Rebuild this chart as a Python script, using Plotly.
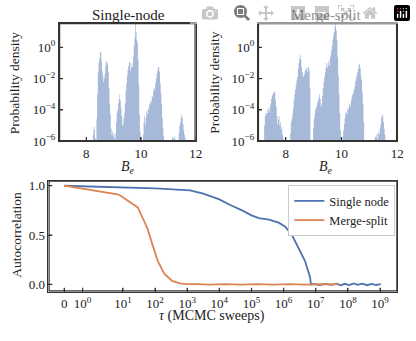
import numpy as np
import plotly.graph_objects as go

# histogram data: log10 probability density per bin, bins of width 0.025 in B_e
bin_width = 0.025

sn_starts = [8.24, 8.37, 9.06, 10.07, 11.13, 11.38]
sn_logd = [
    [-5.6, -5.1, -5.3, -5.8],
    [-4.6, -3.0, -1.6, -1.0, -0.7, -0.35, -0.3, -0.9, -1.5, -1.8, -2.2, -2.0, -1.7, -1.2,
     -0.9, -0.95, -1.1, -1.6, -2.6, -3.6, -4.3, -5.2, -5.6, -5.4, -5.7, -5.5, -5.8],
    [-5.5, -4.8, -4.2, -4.0, -3.6, -3.3, -3.0, -3.4, -3.9, -4.4, -5.0, -4.9, -4.5, -4.2,
     -3.6, -2.8, -2.3, -1.8, -1.45, -1.2, -0.93, -1.0, -1.5, -1.3, -1.0, -1.25, -0.6, 0.1,
     0.6, 1.5, 1.0, 0.5, 0.3, -0.8, -2.4, -4.3, -5.4, -5.7],
    [-5.6, -4.8, -4.4, -5.0, -4.5, -4.1, -4.3, -3.9, -4.0, -3.6, -3.7, -3.4, -3.5, -3.1,
     -3.2, -2.8, -2.6, -2.7, -2.3, -2.0, -1.7, -1.5, -1.25, -1.3, -1.6, -2.3, -2.9, -3.6,
     -4.5, -5.2, -5.7],
    [-5.8, -5.7, -5.9, -5.8, -5.7],
    [-5.5, -5.0, -4.8, -4.5, -4.3, -4.5, -4.9, -5.3, -5.6, -5.8],
]

ms_starts = [7.225, 8.16, 8.98, 10.04, 11.2]
ms_logd = [
    [-5.0, -4.4, -4.2, -4.3, -4.0, -4.2, -3.9, -4.1, -3.8, -3.6, -3.3, -3.1, -3.0, -2.9,
     -2.8, -2.9, -3.4, -3.8, -4.4, -4.9, -4.6, -4.4, -5.0, -4.8, -5.3, -5.1, -5.6, -5.8],
    [-5.5, -4.8, -4.6, -4.3, -3.9, -3.4, -3.0, -2.7, -2.4, -2.1, -1.9, -1.4, -1.0, -0.7,
     -0.45, -0.8, -1.3, -1.6, -1.8, -1.9, -1.7, -1.5, -1.3, -1.4, -1.6, -1.3, -1.25, -1.5, -2.6],
    [-5.2, -4.6, -4.3, -4.0, -3.9, -3.7, -3.5, -3.4, -3.2, -3.0, -3.3, -3.8, -3.6, -3.1,
     -2.6, -2.2, -1.9, -1.6, -1.3, -1.0, -1.3, -1.1, -0.9, -1.2, -0.7, -0.5, -0.2, 0.1,
     0.5, 0.8, 1.0, 1.3, 1.55, 1.1, 0.5, -0.6, -1.8, -3.0, -4.2, -5.3],
    [-5.7, -5.3, -4.9, -4.5, -4.2, -4.1, -4.3, -3.9, -4.0, -3.7, -3.6, -3.8, -3.4, -3.2,
     -3.0, -2.9, -2.7, -2.5, -2.2, -2.0, -1.8, -1.6, -1.4, -1.15, -1.05, -1.3, -1.8, -2.1,
     -2.9, -3.6, -4.8],
    [-5.7, -5.8, -5.6, -5.9, -5.5, -5.4, -5.6, -5.2, -4.9, -4.5, -4.3, -4.4, -4.8, -5.2, -5.6],
]

# autocorrelation curves
sn_tau = [0, 1, 10, 100, 1230, 3160, 1e4, 2.1e4, 5.3e4, 1e5, 1.7e5, 3.5e5, 7e5, 1.12e6,
          1.8e6, 2.6e6, 3.2e6, 4.6e6, 6.6e6, 7.1e6, 9e6, 1.3e7, 2e7, 3e7, 4.5e7, 6e7, 8e7,
          1.1e8, 1.5e8, 2e8, 2.8e8, 4e8, 5.5e8, 7.5e8, 1.05e9]
sn_acf = [1.0, 0.995, 0.984, 0.974, 0.953, 0.92, 0.862, 0.807, 0.748, 0.70, 0.672, 0.656,
          0.626, 0.584, 0.502, 0.403, 0.338, 0.24, 0.075, 0.0, 0.004, -0.006, 0.005, -0.004,
          0.008, -0.009, 0.006, -0.007, 0.009, -0.005, 0.007, -0.008, 0.005, -0.006, 0.003]

ms_tau = [0, 7.9, 29, 41, 58, 83, 121, 193, 340, 600, 960, 2e3, 5e3, 1.5e4, 5e4, 1.5e5,
          5e5, 1.5e6, 5e6, 1.5e7, 3e7, 5e7]
ms_acf = [1.0, 0.911, 0.78, 0.666, 0.567, 0.403, 0.239, 0.108, 0.036, 0.01, 0.003, 0.002,
          -0.002, 0.003, -0.002, 0.002, -0.003, 0.002, -0.002, 0.003, -0.002, 0.001]

tau_ticks = [0, 1, 10, 100, 1e3, 1e4, 1e5, 1e6, 1e7, 1e8, 1e9]
tau_ticktext = ["0"] + ["10<sup>%d</sup>" % k for k in range(0, 10)]
be_ticks = [8, 10, 12]
dens_ticks = [1e-6, 1e-4, 1e-2, 1]
acf_ticks = [0, 0.5, 1.0]


def tau_pos(t):
    # axis position of a sweep count, in decades
    out = []
    for v in t:
        if v <= 1:
            out.append(-0.826 + 0.572 * v)
        elif v < 10:
            out.append(-0.254 + 1.254 * float(np.log10(v)))
        else:
            out.append(float(np.log10(v)))
    return out


FILL = "#a6b9d8"
BLUE = "#4c72b0"
ORANGE = "#dd8452"
FONT = "Liberation Serif"
AXC = "#333333"
TXT = "#222222"

W, H, M = 416, 341, 2

be_range = [7.0, 12.0]
log_range = [-6, 1.55]
tau_range = [-1.315, 9.541]
acf_range = [-0.072, 1.052]

fig = go.Figure()


def add_hist(starts, logds, xa, ya):
    for s, vals in zip(starts, logds):
        edges = [s + bin_width * i for i in range(len(vals) + 1)]
        dens = [10.0 ** v for v in vals]
        xs = [edges[0]] + edges + [edges[-1]]
        ys = [1e-9] + dens + [dens[-1], 1e-9]
        fig.add_trace(go.Scatter(x=xs, y=ys, mode="lines", line=dict(width=0, shape="hv"),
                                 fill="toself", fillcolor=FILL, xaxis=xa, yaxis=ya,
                                 showlegend=False, hoverinfo="skip"))


add_hist(sn_starts, sn_logd, "x", "y")
add_hist(ms_starts, ms_logd, "x2", "y2")

fig.add_trace(go.Scatter(x=tau_pos(sn_tau), y=sn_acf, mode="lines", name="Single node",
                         line=dict(color=BLUE, width=1.8), xaxis="x3", yaxis="y3"))
fig.add_trace(go.Scatter(x=tau_pos(ms_tau), y=ms_acf, mode="lines", name="Merge-split",
                         line=dict(color=ORANGE, width=1.8), xaxis="x3", yaxis="y3"))


def frame(xa, ya, xpx, ypx, xr, yr, xt, yt, log=False):
    # box round the axes plus inward ticks on the bottom and left sides
    conv = (lambda v: 10.0 ** v) if log else (lambda v: v)
    x0, x1 = xr
    y0, y1 = conv(yr[0]), conv(yr[1])
    fig.add_trace(go.Scatter(x=[x0, x1, x1, x0, x0], y=[y0, y0, y1, y1, y0], mode="lines",
                             line=dict(color=AXC, width=2.4), xaxis=xa, yaxis=ya,
                             showlegend=False, hoverinfo="none"))
    tx, ty = [], []
    ytop = conv(yr[0] + 4 / ypx * (yr[1] - yr[0]))
    for v in xt:
        tx += [v, v, None]
        ty += [y0, ytop, None]
    xright = x0 + 4 / xpx * (x1 - x0)
    for v in yt:
        tx += [x0, xright, None]
        ty += [v, v, None]
    fig.add_trace(go.Scatter(x=tx, y=ty, mode="lines", line=dict(color=AXC, width=1.2),
                             xaxis=xa, yaxis=ya, showlegend=False, hoverinfo="none"))


frame("x", "y", 139, 121.6, be_range, log_range, be_ticks, dens_ticks, log=True)
frame("x2", "y2", 141.7, 121.6, be_range, log_range, be_ticks, dens_ticks, log=True)
frame("x3", "y3", 355, 114.3, tau_range, acf_range, tau_pos(tau_ticks), acf_ticks)

tickfont = dict(family=FONT, size=13, color=TXT)


def hdom(a, b):
    # pixel span -> domain of the plot area
    return [(a - M) / (W - 2 * M), (b - M) / (W - 2 * M)]


def vdom(top, bottom):
    return [(H - M - bottom) / (H - 2 * M), (H - M - top) / (H - 2 * M)]


def note(text, x, y, size, angle=0):
    return dict(text=text, x=x / W, y=1 - y / H, xref="paper", yref="paper",
                showarrow=False, xanchor="center", yanchor="middle", textangle=angle,
                font=dict(family=FONT, size=size, color=TXT))


top_dom = vdom(21.7, 143.3)
log_ticktext = ["10<sup>\u22126</sup>", "10<sup>\u22124</sup>", "10<sup>\u22122</sup>", "10<sup>0</sup>"]

fig.update_layout(
    width=W, height=H,
    margin=dict(l=M, r=M, t=M, b=M),
    plot_bgcolor="rgba(0,0,0,0)", paper_bgcolor="white",
    xaxis=dict(domain=hdom(60, 199), anchor="y", range=be_range, tickvals=be_ticks),
    yaxis=dict(domain=top_dom, anchor="x", type="log", range=log_range,
               tickvals=dens_ticks, ticktext=log_ticktext),
    xaxis2=dict(domain=hdom(262.3, 404), anchor="y2", range=be_range, tickvals=be_ticks),
    yaxis2=dict(domain=top_dom, anchor="x2", type="log", range=log_range,
                tickvals=dens_ticks, ticktext=log_ticktext),
    xaxis3=dict(domain=hdom(49.3, 404.3), anchor="y3", range=tau_range,
                tickvals=tau_pos(tau_ticks), ticktext=tau_ticktext),
    yaxis3=dict(domain=vdom(184, 298.3), anchor="x3", range=acf_range,
                tickvals=acf_ticks, ticktext=["0.0", "0.5", "1.0"]),
    legend=dict(x=404 / W, xanchor="right", y=1 - 189 / H, yanchor="top", bgcolor="white",
                bordercolor="#cccccc", borderwidth=1, font=dict(family=FONT, size=12.5, color=TXT),
                itemwidth=30, tracegroupgap=0),
    annotations=[
        note("Single-node", 129.5, 11, 15),
        note("Merge-split", 333, 11, 15),
        note("Probability density", 13, 82, 13.5, -90),
        note("Probability density", 218, 82, 13.5, -90),
        note("<i>B</i><sub><i>e</i></sub>", 129.5, 170, 14),
        note("<i>B</i><sub><i>e</i></sub>", 333, 170, 14),
        note("Autocorrelation", 14, 241, 13.5, -90),
        note("<i>\u03c4</i> (MCMC sweeps)", 216, 325, 14),
    ],
)
fig.update_xaxes(showline=True, linecolor=AXC, linewidth=1, mirror=True, ticks="inside",
                 ticklen=4, tickcolor=AXC, showgrid=False, zeroline=False, tickfont=tickfont)
fig.update_yaxes(showline=True, linecolor=AXC, linewidth=1, mirror=True, ticks="inside",
                 ticklen=4, tickcolor=AXC, showgrid=False, zeroline=False, tickfont=tickfont)

fig.write_html("out.html", post_script="document.body.style.margin='0';")
